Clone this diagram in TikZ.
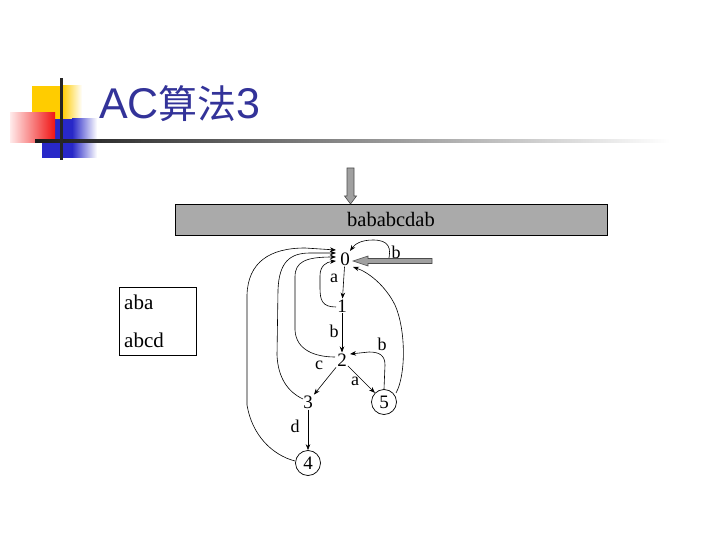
\documentclass[tikz,border=0pt]{standalone}
\usepackage{fontspec}
\setmainfont{Liberation Serif}
\newfontfamily\titlefont{Liberation Sans}
\newfontfamily\cjkfont{Noto Sans CJK SC}
\usetikzlibrary{arrows.meta,calc}
\definecolor{titleblue}{RGB}{51,51,153}
\definecolor{boxgray}{RGB}{170,170,170}
\definecolor{arrowgray}{RGB}{160,160,160}
\definecolor{decoyellow}{RGB}{255,204,0}
\definecolor{decored}{RGB}{240,20,20}
\definecolor{decoblue}{RGB}{40,40,200}
\tikzset{
  st/.style={font=\fontsize{19}{19}\selectfont, inner sep=1pt},
  acc/.style={circle, draw, line width=0.7pt, minimum size=25pt, inner sep=0pt, font=\fontsize{19}{19}\selectfont},
  lbl/.style={font=\fontsize{18}{18}\selectfont, inner sep=0pt},
  tedge/.style={-{Stealth[length=6pt,width=4.5pt]}, line width=0.6pt},
  fedge/.style={-{Stealth[length=6pt,width=4.5pt]}, line width=0.6pt},
  fatarrow/.style={fill=arrowgray, draw=black!70, line width=0.6pt},
}
\begin{document}
\begin{tikzpicture}[x=1pt,y=-1pt]
\useasboundingbox (0,0) rectangle (720,540);
\fill[white] (0,0) rectangle (720,540);
% title decoration
\fill[decoyellow] (32,86) rectangle (62,134);
\shade[left color=decoyellow, right color=white] (62,86) rectangle (82,134);
\fill[decoblue] (42,119) rectangle (72,158);
\shade[left color=decoblue, right color=white] (72,119) rectangle (97,158);
\shade[left color=red!8, right color=decored] (10,113) rectangle (55,143);
\shade[left color=black!90, right color=white] (35,139.5) rectangle (670,142.5);
\fill[black!85] (59.5,78) rectangle (62.5,160);
\node[anchor=base west, inner sep=0pt, text=titleblue, font=\titlefont\fontsize{43}{43}\selectfont] (title) at (99,119) {AC{\cjkfont\fontsize{39}{39}\selectfont 算法}3};
% input tape
\node[draw, fill=boxgray, line width=0.6pt, minimum width=432pt, minimum height=31pt, inner sep=0pt, font=\fontsize{20.5}{20.5}\selectfont] (tape) at (391,219.5) {bababcdab};
\draw[fatarrow] (347,168) -- (354,168) -- (354,196) -- (356.5,196) -- (350.5,204) -- (344.5,196) -- (347,196) -- cycle;
% patterns
\node[draw, line width=0.6pt, minimum width=77pt, minimum height=68pt, inner sep=0pt] (pat) at (158,321) {};
\node[anchor=base west, inner sep=0pt, font=\fontsize{21}{21}\selectfont] (p1) at (124,309) {aba};
\node[anchor=base west, inner sep=0pt, font=\fontsize{21}{21}\selectfont] (p2) at (124,347) {abcd};
% automaton states
\node[st] (n0) at (345,259) {0};
\node[st] (n1) at (342,306) {1};
\node[st] (n2) at (342,360) {2};
\node[st] (n3) at (308,402) {3};
\node[acc] (n4) at (308,463) {4};
\node[acc] (n5) at (384,402) {5};
% goto edges
\draw[tedge] (n0) -- (n1);
\draw[tedge] (n1) -- (n2);
\draw[tedge] (n2) -- (n3);
\draw[tedge] (n2) -- (n5);
\draw[tedge] (n3) -- (n4);
\node[lbl] (la) at (334,278) {a};
\node[lbl] (lb) at (334,331) {b};
\node[lbl] (lc) at (319,365) {c};
\node[lbl] (la2) at (355,381) {a};
\node[lbl] (ld) at (295,426) {d};
\node[lbl] (lb2) at (382,344) {b};
\node[lbl] (lb3) at (396,252) {b};
% self loop on 0
\coordinate (loopstart) at (388,262);
\draw[fedge] (loopstart) .. controls (392,248) and (389,240) .. (373,240) .. controls (361,240) and (355,244) .. ($(n0)+(5,-8)$);
% input arrow from right
\draw[fatarrow] (432,258.5) -- (368,258.5) -- (368,256) -- (353,261) -- (368,266) -- (368,263.5) -- (432,263.5) -- cycle;
% failure links
\draw[fedge] ($(n4)+(-13,-2)$) .. controls (272,455) and (252,435) .. (247,405) -- (247,295) .. controls (248,262) and (270,248) .. (305,248) -- ($(n0)+(-9,-9)$);
\draw[fedge] ($(n3)+(-5,-3)$) .. controls (288,392) and (278,378) .. (277,355) -- (278,290) .. controls (279,262) and (290,253) .. (310,253) -- ($(n0)+(-9,-6)$);
\draw[fedge] ($(n2)+(-7,-3)$) .. controls (315,357) and (296,350) .. (295,330) -- (295,277) .. controls (295,262) and (305,257) .. ($(n0)+(-9,-2)$);
\draw[fedge] ($(n1)+(-6,1)$) .. controls (322,307) and (320,300) .. (320,288) -- (320,276) .. controls (320,266) and (326,262) .. ($(n0)+(-9,2)$);
\draw[fedge] ($(n5)+(12,-9)$) .. controls (406,375) and (406,330) .. (395,305) .. controls (385,285) and (368,272) .. ($(n0)+(8,8)$);
\draw[fedge] ($(n5)+(0,-13)$) -- (385,365) .. controls (385,355) and (379,352) .. (369,352) -- ($(n2)+(8,-6)$);
\end{tikzpicture}
\end{document}
